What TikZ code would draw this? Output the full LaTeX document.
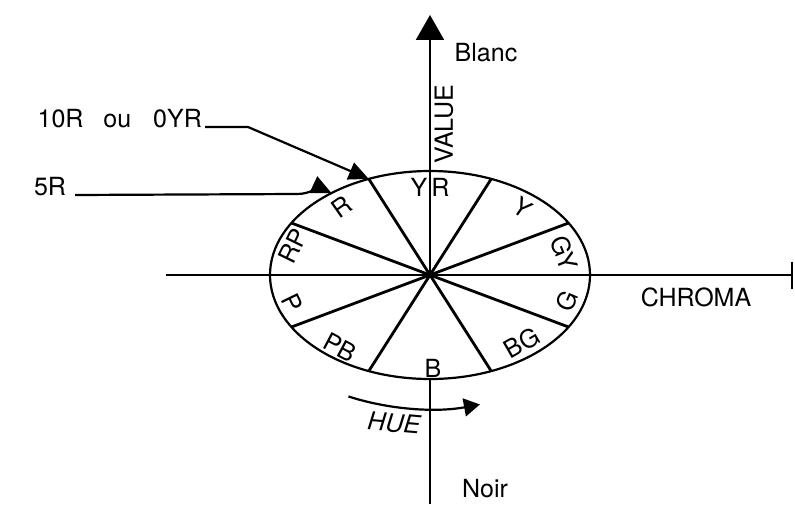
\documentclass[tikz,border=0pt]{standalone}
\usepackage{fontspec}
\setmainfont{TeX Gyre Heros}
\usetikzlibrary{arrows.meta}

\begin{document}
\begin{tikzpicture}[x=0.5pt, y=0.5pt, line width=1.1pt,
  lbl/.style={font=\fontsize{12.5}{14}\selectfont, inner sep=0pt},
  pointe/.style={-{Triangle[width=9pt,length=10pt]}}]
  \useasboundingbox (-430,-229) rectangle (365,275);
  \coordinate (o) at (0,0);
  \coordinate (bas) at (0,-229);
  \coordinate (haut) at (0,260);
  \coordinate (sud) at (-90:160 and 104);
  \coordinate (gauche) at (-264,0);
  \coordinate (droite) at (363,0);
  \draw (bas) -- (sud);
  \draw[-{Triangle[width=14pt,length=12.5pt]}] (o) -- (haut);
  \draw[-{Bar[width=13.5pt]}] (gauche) -- (droite);
  \draw (o) ellipse [x radius=160, y radius=104];
  \foreach \t in {30,67.5,112.5,150}
    \draw[line width=1.4pt] (\t:160 and 104) -- (\t+180:160 and 104);
  \node[lbl] (yr) at (0,88) {Y\hspace{2pt}R};
  \node[lbl, rotate=-35] (y) at (93,67) {Y};
  \node[lbl, rotate=-68] (gy) at (134,22) {GY};
  \node[lbl, rotate=67] (g) at (137,-26) {G};
  \node[lbl, rotate=30] (bg) at (92,-68) {BG};
  \node[lbl] (b) at (3,-93) {B};
  \node[lbl, rotate=-28] (pb) at (-90,-72) {PB};
  \node[lbl, rotate=-64] (p) at (-138,-28) {P};
  \node[lbl, rotate=64] (rp) at (-137,29) {RP};
  \node[lbl, rotate=35] (r) at (-88,68) {R};
  \node[lbl, rotate=90] (value) at (14,151) {VALUE};
  \node[lbl] (blanc) at (56,222) {Blanc};
  \node[lbl] (noir) at (55,-214) {Noir};
  \node[lbl] (chroma) at (266,-22) {CHROMA};
  \coordinate (hue0) at (245:193 and 134);
  \draw[-{Triangle[width=9pt,length=8pt]}] (hue0)
    arc[start angle=245, end angle=285, x radius=193, y radius=134];
  \node[lbl, font=\fontsize{12.5}{14}\selectfont\itshape, rotate=-5] (hue) at (-36,-148) {HUE};
  \node[lbl, anchor=base east] (dixR) at (-227,148) {10R\hspace{10pt}ou\hspace{11pt}0YR};
  \coordinate (dixRk) at (-182,148);
  \coordinate (dixRt) at (112.5:160 and 104);
  \draw[pointe] ([xshift=1pt]dixR.base east) -- (dixRk) -- (dixRt);
  \node[lbl, anchor=base west] (cinqR) at (-397,80) {5R};
  \coordinate (cinqRk) at (-133,81);
  \coordinate (cinqRt) at (128:160 and 104);
  \draw[pointe] ([xshift=4pt]cinqR.base east) -- (cinqRk) to[out=0, in=155] (cinqRt);
\end{tikzpicture}
\end{document}
